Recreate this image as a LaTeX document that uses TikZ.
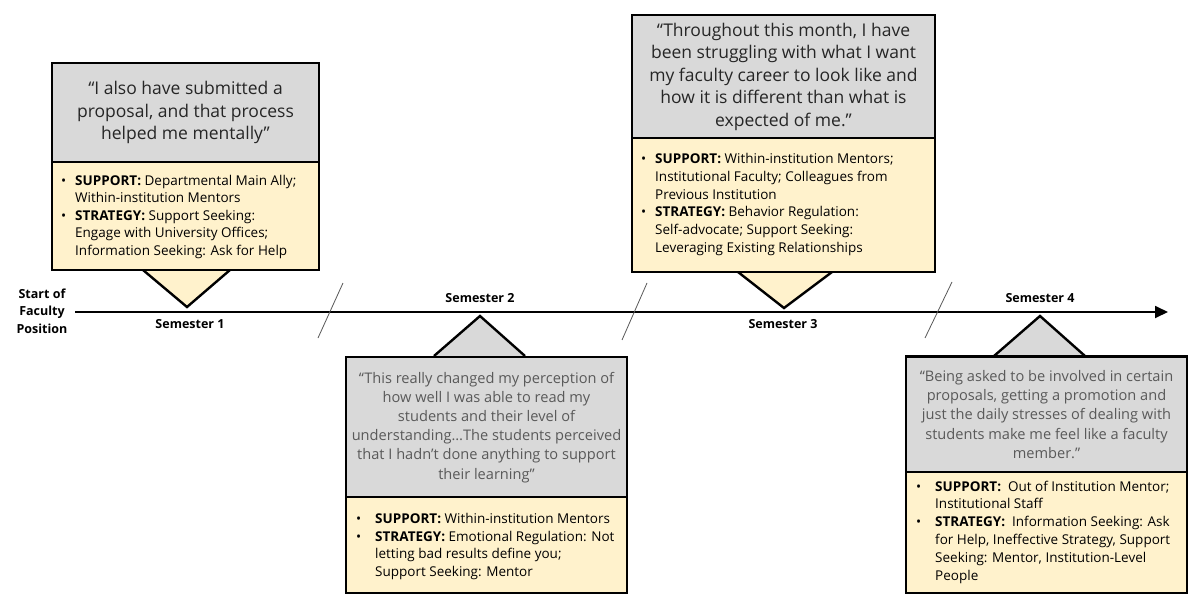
\documentclass[tikz,border=0pt]{standalone}
\usepackage{fontspec}
\setmainfont{Open Sans}
\usetikzlibrary{arrows.meta}
\definecolor{qgray}{HTML}{D9D9D9}
\definecolor{infoy}{HTML}{FFF2CC}
\definecolor{darktxt}{HTML}{262626}
\definecolor{lighttxt}{HTML}{595959}
\definecolor{slashc}{HTML}{595959}
\newcommand\BL[1]{\makebox[#1][l]{\textbullet}}
\newcommand\CL[1]{\hspace*{#1}}
\tikzset{
  qbox/.style={draw=black, line width=2.4pt, fill=qgray, inner sep=0pt, align=center},
  ibox/.style={draw=black, line width=2.4pt, fill=infoy, inner sep=0pt},
  bigq/.style={font=\fontsize{17.5}{22.5}\selectfont, text=darktxt},
  smallq/.style={font=\fontsize{14.6}{19.1}\selectfont, text=lighttxt},
  itext/.style={inner sep=0pt, align=left, anchor=west, text=black, font=\fontsize{13.5}{17.8}\selectfont},
  semlabel/.style={inner sep=0pt, font=\bfseries\fontsize{12.5}{15}\selectfont},
  pointer/.style={draw=black, line width=2.4pt, line join=miter},
  slashline/.style={draw=slashc, line width=0.8pt},
  timeline/.style={draw=black, line width=1.8pt, -{Triangle[length=13pt,width=12pt]}}
}
\begin{document}
\begin{tikzpicture}[x=1pt,y=-1pt]
\useasboundingbox (0,0) rectangle (1200,610);
\fill[white] (0,0) rectangle (1200,610);

% timeline
\node[semlabel, align=center, font=\bfseries\fontsize{12.5}{17.5}\selectfont] (start) at (42,311) {Start of\\Faculty\\Position};
\coordinate (ls) at (75,312);
\coordinate (le) at (1168,312);
\draw[timeline] (ls) -- (le);

% slashes
\draw[slashline] (343,283) -- (318,338);
\draw[slashline] (647,283) -- (622,340);
\draw[slashline] (952,282) -- (925,338);

% semester labels
\node[semlabel] (s1) at (190,324) {Semester 1};
\node[semlabel] (s2) at (480,298) {Semester 2};
\node[semlabel] (s3) at (783,324) {Semester 3};
\node[semlabel] (s4) at (1040,298) {Semester 4};

% pointers
\filldraw[pointer, fill=infoy] (143,270) -- (187,307) -- (230,270);
\filldraw[pointer, fill=infoy] (738,272) -- (784,308) -- (832,272);
\filldraw[pointer, fill=qgray] (434,356) -- (480,316) -- (525,356);
\filldraw[pointer, fill=qgray] (994,356) -- (1040,316) -- (1085,356);

% box 1
\node[qbox, bigq, minimum width=267, minimum height=99] (q1) at (185.5,112.5)
  {“I also have submitted a\\proposal, and that process\\helped me mentally”};
\node[ibox, minimum width=267, minimum height=108] (y1) at (185.5,216) {};
\node[itext, font=\fontsize{13.5}{17.5}\selectfont] (t1) at (61,216.5)
  {\BL{14pt}\textbf{SUPPORT:} Departmental Main Ally;\\
   \CL{14pt}Within-institution Mentors\\
   \BL{14pt}\textbf{STRATEGY:} Support Seeking:\\
   \CL{14pt}Engage with University Offices;\\
   \CL{14pt}Information Seeking: Ask for Help};

% box 2
\node[qbox, smallq, minimum width=281, minimum height=141] (q2) at (486.5,427.5)
  {“This really changed my perception of\\how well I was able to read my\\students and their level of\\understanding…The students perceived\\that I hadn’t done anything to support\\their learning”};
\node[ibox, minimum width=281, minimum height=96] (y2) at (486.5,545) {};
\node[itext] (t2) at (356,546.5)
  {\BL{19pt}\textbf{SUPPORT:} Within-institution Mentors\\
   \BL{19pt}\textbf{STRATEGY:} Emotional Regulation: Not\\
   \CL{19pt}letting bad results define you;\\
   \CL{19pt}Support Seeking: Mentor};

% box 3
\node[qbox, bigq, minimum width=303, minimum height=123] (q3) at (783.5,76.5)
  {“Throughout this month, I have\\been struggling with what I want\\my faculty career to look like and\\how it is different than what is\\expected of me.”};
\node[ibox, minimum width=303, minimum height=134] (y3) at (783.5,205) {};
\node[itext] (t3) at (641,204.5)
  {\BL{14pt}\textbf{SUPPORT:} Within-institution Mentors;\\
   \CL{14pt}Institutional Faculty; Colleagues from\\
   \CL{14pt}Previous Institution\\
   \BL{14pt}\textbf{STRATEGY:} Behavior Regulation:\\
   \CL{14pt}Self-advocate; Support Seeking:\\
   \CL{14pt}Leveraging Existing Relationships};

% box 4
\node[qbox, smallq, minimum width=281, minimum height=116] (q4) at (1046.5,414.5)
  {“Being asked to be involved in certain\\proposals, getting a promotion and\\just the daily stresses of dealing with\\students make me feel like a faculty\\member.”};
\node[ibox, minimum width=281, minimum height=121] (y4) at (1046.5,532.5) {};
\node[itext] (t4) at (916,532)
  {\BL{19pt}\textbf{SUPPORT:}\ \ Out of Institution Mentor;\\
   \CL{19pt}Institutional Staff\\
   \BL{19pt}\textbf{STRATEGY:}\ \ Information Seeking: Ask\\
   \CL{19pt}for Help, Ineffective Strategy, Support\\
   \CL{19pt}Seeking: Mentor, Institution-Level\\
   \CL{19pt}People};
\end{tikzpicture}
\end{document}
